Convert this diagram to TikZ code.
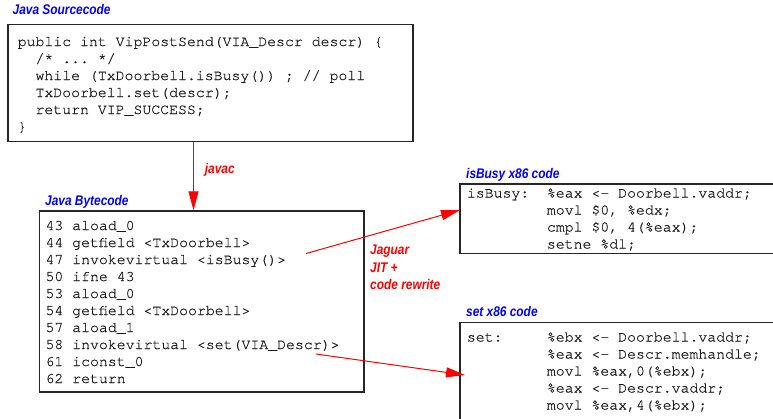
\documentclass[tikz,border=0pt]{standalone}
\usepackage{fontspec}
\setmonofont[FakeBold=0.5]{TeX Gyre Cursor}
\newfontfamily\labfont[FakeStretch=0.85]{Liberation Sans}
\usetikzlibrary{arrows.meta}
\definecolor{labblue}{RGB}{0,0,255}
\definecolor{arrred}{RGB}{255,0,0}
\tikzset{
  codebox/.style={draw=black!85, line width=1.3pt, inner sep=0pt, rectangle},
  codeline/.style={anchor=base west, inner sep=0pt, text=black!90,
    font=\ttfamily\frenchspacing\fontsize{14.85}{17}\selectfont},
  boxlabel/.style={anchor=base west, inner sep=0pt, text=labblue,
    font=\labfont\bfseries\itshape\fontsize{14}{16}\selectfont},
  steplabel/.style={anchor=base west, inner sep=0pt, text=arrred,
    font=\labfont\bfseries\itshape\fontsize{14}{16}\selectfont},
  redarrow/.style={draw=arrred, line width=1pt, -{Triangle[length=19pt,width=10pt]}},
}
\begin{document}
\begin{tikzpicture}[x=1pt,y=-1pt]
\clip (0,0) rectangle (773,418);
\useasboundingbox (0,0) rectangle (773,418);
% boxes
\node[codebox, minimum width=405pt, minimum height=117pt] (src) at (210.5,83) {};
\node[codebox, minimum width=324.7pt, minimum height=181pt] (bc) at (201.65,301.5) {};
\node[codebox, minimum width=400pt, minimum height=69.3pt] (busy) at (660,218.65) {};
\node[codebox, minimum width=400pt, minimum height=177.3pt] (setb) at (660,411.35) {};
% labels
\node[boxlabel] (lsrc) at (12.5,14) {Java Sourcecode};
\node[boxlabel] (lbc) at (45,205) {Java Bytecode};
\node[boxlabel] (lbusy) at (466,178.3) {isBusy x86 code};
\node[boxlabel] (lset) at (466,316.7) {set x86 code};
\node[steplabel] (ljavac) at (204.7,173.3) {javac};
\node[steplabel] (ljag1) at (370,254) {Jaguar};
\node[steplabel] (ljag2) at (370,272) {JIT +};
\node[steplabel] (ljag3) at (370,289.5) {code rewrite};
% source code
\node[codeline] (s1) at (17.5,46) {public int VipPostSend(VIA\_Descr descr) \{};
\node[codeline] (s2) at (35.3,63) {/* ... */};
\node[codeline] (s3) at (35.3,80) {while (TxDoorbell.isBusy()) ; // poll};
\node[codeline] (s4) at (35.3,97) {TxDoorbell.set(descr);};
\node[codeline] (s5) at (35.3,114) {return VIP\_SUCCESS;};
\node[codeline] (s6) at (17.5,131) {\}};
% bytecode
\node[codeline] (b1) at (45.3,230) {43 aload\_0};
\node[codeline] (b2) at (45.3,247) {44 getfield <TxDoorbell>};
\node[codeline] (b3) at (45.3,264) {47 invokevirtual <isBusy()>};
\node[codeline] (b4) at (45.3,281) {50 ifne 43};
\node[codeline] (b5) at (45.3,298) {53 aload\_0};
\node[codeline] (b6) at (45.3,315) {54 getfield <TxDoorbell>};
\node[codeline] (b7) at (45.3,332) {57 aload\_1};
\node[codeline] (b8) at (45.3,349) {58 invokevirtual <set(VIA\_Descr)>};
\node[codeline] (b9) at (45.3,366) {61 iconst\_0};
\node[codeline] (b10) at (45.3,383) {62 return};
% isBusy code
\node[codeline] (i0) at (466.7,197.5) {isBusy:};
\node[codeline] (i1) at (546.7,197.5) {\%eax <- Doorbell.vaddr;};
\node[codeline] (i2) at (546.7,214.5) {movl \$0, \%edx;};
\node[codeline] (i3) at (546.7,231.5) {cmpl \$0, 4(\%eax);};
\node[codeline] (i4) at (546.7,248.5) {setne \%dl;};
% set code
\node[codeline] (t0) at (466.7,341.5) {set:};
\node[codeline] (t1) at (546.7,341.5) {\%ebx <- Doorbell.vaddr;};
\node[codeline] (t2) at (546.7,358.5) {\%eax <- Descr.memhandle;};
\node[codeline] (t3) at (546.7,375.5) {movl \%eax,0(\%ebx);};
\node[codeline] (t4) at (546.7,392.5) {\%eax <- Descr.vaddr;};
\node[codeline] (t5) at (546.7,409.5) {movl \%eax,4(\%ebx);};
% arrows
\coordinate (jv) at (193.5,0);
\coordinate (a1s) at (306,253.5);
\coordinate (a1e) at (460,210);
\coordinate (a2s) at (316,354);
\coordinate (a2e) at (465,375);
\draw[redarrow] (src.south -| jv) -- (bc.north -| jv);
\draw[redarrow] (a1s) -- (a1e);
\draw[redarrow] (a2s) -- (a2e);
\end{tikzpicture}
\end{document}
